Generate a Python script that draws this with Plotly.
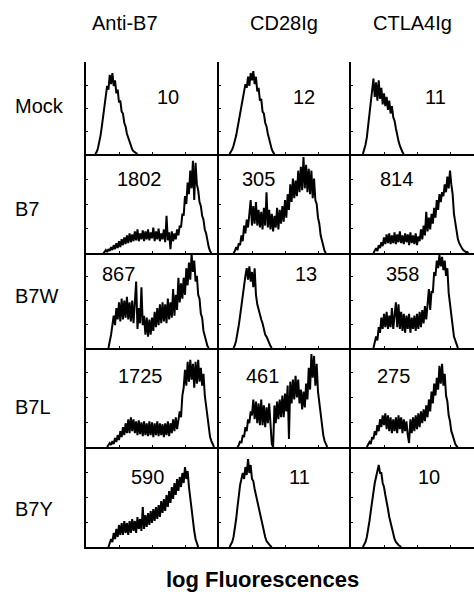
import plotly.graph_objects as go

# ---------------- data ----------------
columns = ["Anti-B7", "CD28Ig", "CTLA4Ig"]
rows = ["Mock", "B7", "B7W", "B7L", "B7Y"]
mfi = [["10", "12", "11"],
       ["1802", "305", "814"],
       ["867", "13", "358"],
       ["1725", "461", "275"],
       ["590", "11", "10"]]

# histogram counts (relative, 0-100) starting at a given log-fluorescence channel (0-100)
mock_antib7_start = 7
mock_antib7 = [0, 2, 6, 12, 20, 30, 42, 54, 62, 74, 70, 86, 76, 88, 74, 80, 66, 70, 56, 58, 46, 44, 34, 30, 22, 18,
               12, 8, 5, 3, 2, 1, 0]
mock_cd28_start = 8
mock_cd28 = [0, 2, 5, 9, 14, 20, 28, 36, 46, 54, 62, 70, 76, 72, 84, 74, 88, 80, 90, 76, 84, 68, 72, 58, 60, 46, 44,
             34, 30, 22, 16, 10, 5, 2, 0]
mock_ctla4_start = 9
mock_ctla4 = [0, 4, 10, 18, 30, 44, 58, 70, 82, 62, 78, 58, 80, 60, 72, 54, 66, 52, 62, 48, 58, 44, 52, 40, 36, 28,
              20, 14, 9, 5, 2, 0]

b7_antib7_start = 13
b7_antib7 = [0, 1, 3, 1, 4, 2, 6, 3, 8, 4, 10, 5, 12, 6, 14, 8, 16, 9, 18, 10, 20, 11, 19, 12, 22, 13, 24, 12, 20,
             14, 23, 12, 22, 14, 24, 13, 21, 15, 26, 12, 22, 14, 25, 12, 20, 14, 24, 11, 38, 13, 21, 4, 22, 12, 20,
             14, 24, 18, 28, 26, 40, 38, 58, 50, 72, 60, 84, 66, 94, 54, 92, 70, 64, 52, 48, 38, 34, 24, 20, 12, 6,
             2, 0]
b7_cd28_start = 11
b7_cd28 = [0, 2, 6, 3, 10, 8, 18, 12, 28, 20, 34, 26, 40, 54, 28, 48, 30, 52, 28, 44, 26, 42, 24, 46, 28, 62, 26,
           44, 24, 40, 22, 38, 26, 46, 24, 44, 30, 48, 32, 54, 36, 60, 44, 70, 52, 76, 56, 74, 58, 84, 62, 88, 64,
           98, 66, 90, 62, 86, 60, 84, 56, 76, 54, 50, 36, 30, 18, 12, 6, 2, 0]
b7_ctla4_start = 17
b7_ctla4 = [0, 2, 5, 2, 8, 5, 11, 7, 16, 9, 19, 10, 20, 9, 18, 10, 21, 9, 19, 11, 22, 10, 18, 9, 20, 11, 19, 8, 21,
            10, 18, 9, 20, 8, 17, 12, 24, 14, 28, 18, 42, 22, 36, 24, 40, 30, 46, 36, 54, 44, 60, 52, 62, 58, 70,
            62, 78, 66, 84, 70, 60, 40, 30, 20, 14, 10, 7, 5, 3, 2, 1, 1, 0]

b7w_antib7_start = 17
b7w_antib7 = [0, 6, 14, 24, 34, 24, 42, 30, 48, 28, 52, 30, 50, 32, 54, 30, 48, 28, 50, 26, 44, 70, 20, 42, 26, 64,
              24, 34, 14, 32, 12, 30, 14, 32, 18, 38, 22, 42, 24, 46, 26, 48, 28, 46, 26, 52, 30, 48, 32, 62, 34,
              56, 40, 74, 48, 68, 52, 74, 56, 84, 66, 90, 72, 99, 80, 92, 70, 76, 56, 52, 36, 32, 18, 12, 6, 2, 0]
b7w_cd28_start = 11
b7w_cd28 = [0, 3, 8, 15, 24, 34, 46, 56, 68, 76, 84, 72, 86, 70, 80, 64, 84, 56, 46, 40, 36, 30, 26, 20, 14, 12, 8,
            5, 2, 0]
b7w_ctla4_start = 17
b7w_ctla4 = [0, 5, 12, 8, 22, 16, 32, 20, 36, 22, 38, 20, 34, 22, 42, 20, 38, 48, 22, 46, 20, 38, 18, 36, 16, 34,
             20, 36, 16, 32, 20, 34, 18, 36, 20, 38, 22, 40, 26, 44, 30, 48, 62, 40, 60, 58, 80, 76, 92, 84, 98, 86,
             96, 82, 92, 76, 84, 58, 46, 30, 22, 12, 8, 3, 0]

b7l_antib7_start = 16
b7l_antib7 = [0, 2, 4, 2, 6, 3, 9, 5, 12, 7, 16, 10, 20, 12, 24, 14, 28, 14, 30, 16, 28, 14, 26, 12, 27, 13, 25, 11,
              26, 12, 24, 11, 26, 12, 25, 10, 24, 12, 26, 11, 24, 12, 23, 10, 24, 12, 26, 11, 24, 14, 28, 16, 30,
              18, 28, 36, 30, 52, 60, 78, 62, 86, 66, 88, 68, 84, 60, 86, 64, 88, 66, 80, 62, 74, 52, 42, 28, 20,
              10, 6, 2, 0]
b7l_cd28_start = 14
b7l_cd28 = [0, 2, 6, 4, 12, 10, 20, 16, 28, 24, 36, 32, 48, 28, 46, 24, 44, 22, 48, 22, 42, 20, 40, 24, 44, 22, 3,
            0, 42, 24, 46, 28, 48, 30, 52, 30, 54, 36, 62, 8, 66, 44, 68, 48, 72, 50, 68, 44, 58, 38, 56, 40, 64,
            48, 80, 58, 94, 70, 92, 62, 84, 56, 44, 30, 20, 12, 6, 2, 0]
b7l_ctla4_start = 12
b7l_ctla4 = [0, 2, 5, 3, 10, 8, 16, 12, 22, 16, 28, 20, 32, 22, 34, 18, 32, 16, 30, 14, 28, 16, 30, 14, 32, 18, 30,
             14, 28, 16, 26, 12, 4, 28, 14, 30, 16, 32, 18, 34, 20, 36, 24, 38, 26, 42, 30, 48, 36, 56, 44, 64, 52,
             70, 58, 82, 64, 84, 62, 74, 52, 46, 32, 26, 16, 12, 6, 3, 1, 0]

b7y_antib7_start = 17
b7y_antib7 = [0, 4, 8, 5, 14, 8, 18, 10, 22, 12, 24, 12, 26, 14, 24, 12, 26, 14, 28, 16, 26, 14, 30, 18, 28, 16, 40,
              18, 32, 20, 34, 22, 36, 24, 38, 26, 40, 28, 42, 30, 46, 34, 48, 36, 52, 40, 56, 44, 60, 48, 64, 52,
              68, 56, 70, 60, 74, 64, 80, 68, 76, 60, 48, 36, 26, 16, 8, 3, 0]
b7y_cd28_start = 8
b7y_cd28 = [0, 2, 5, 10, 18, 28, 40, 52, 62, 68, 74, 68, 80, 72, 88, 74, 82, 68, 66, 58, 52, 46, 38, 32, 26, 20, 14,
            10, 6, 4, 2, 1, 0]
b7y_ctla4_start = 9
b7y_ctla4 = [0, 2, 5, 10, 17, 26, 36, 46, 56, 64, 70, 76, 82, 74, 74, 64, 60, 52, 46, 38, 30, 24, 18, 12, 8, 5, 3,
             2, 1, 0]

histograms = [
    [(mock_antib7_start, mock_antib7), (mock_cd28_start, mock_cd28), (mock_ctla4_start, mock_ctla4)],
    [(b7_antib7_start, b7_antib7), (b7_cd28_start, b7_cd28), (b7_ctla4_start, b7_ctla4)],
    [(b7w_antib7_start, b7w_antib7), (b7w_cd28_start, b7w_cd28), (b7w_ctla4_start, b7w_ctla4)],
    [(b7l_antib7_start, b7l_antib7), (b7l_cd28_start, b7l_cd28), (b7l_ctla4_start, b7l_ctla4)],
    [(b7y_antib7_start, b7y_antib7), (b7y_cd28_start, b7y_cd28), (b7y_ctla4_start, b7y_ctla4)],
]

# ---------------- layout (pixels) ----------------
W, H = 474, 592
col_px = [(86, 219), (219, 351), (351, 474)]
col_w = 132
row_px = [(62, 154), (155, 253), (253, 348), (348, 447), (447, 547)]
header_x = [125, 284, 412]
header_y = 23
row_label_y = [106, 209, 296, 407, 509]
num_pos = [[(168, 97), (304, 97), (435, 97)],
           [(139, 179), (258, 179), (396, 179)],
           [(118, 274), (306, 274), (402, 274)],
           [(140, 376), (262, 376), (393, 376)],
           [(147, 477), (299, 477), (429, 477)]]

FONT = "Liberation Sans, Arial, sans-serif"

def px(x):
    return x / W

def py(y):
    return 1 - y / H

fig = go.Figure()
layout = dict(width=W, height=H, margin=dict(l=0, r=0, t=0, b=0),
              paper_bgcolor="white", plot_bgcolor="white", showlegend=False)
annotations = []

n = 0
for r in range(5):
    for c in range(3):
        n += 1
        start, vals = histograms[r][c]
        xs = [start + i for i in range(len(vals))]
        xa = "x" if n == 1 else f"x{n}"
        ya = "y" if n == 1 else f"y{n}"
        fig.add_trace(go.Scatter(x=xs, y=vals, mode="lines", xaxis=xa, yaxis=ya,
                                 line=dict(color="black", width=2), hoverinfo="skip"))
        x0, x1 = col_px[c]
        y0, y1 = row_px[r]
        xr = 100 * (x1 - x0) / col_w
        layout["xaxis" if n == 1 else f"xaxis{n}"] = dict(
            domain=[px(x0), px(x1)], range=[0, xr], anchor=ya,
            showline=True, linecolor="black", linewidth=2, showgrid=False, zeroline=False,
            ticks="inside", ticklen=2, tickcolor="black", tickvals=[25, 50, 75], showticklabels=False)
        layout["yaxis" if n == 1 else f"yaxis{n}"] = dict(
            domain=[py(y1), py(y0)], range=[0, 100], anchor=xa,
            showline=True, linecolor="black", linewidth=2, showgrid=False, zeroline=False,
            ticks="inside", ticklen=2, tickcolor="black", tickvals=[25, 50, 75, 100], showticklabels=False)
        tx, ty = num_pos[r][c]
        annotations.append(dict(text=mfi[r][c], x=px(tx), y=py(ty), xref="paper", yref="paper",
                                showarrow=False, xanchor="center", yanchor="middle",
                                font=dict(family=FONT, size=20, color="black")))

for c in range(3):
    annotations.append(dict(text=columns[c], x=px(header_x[c]), y=py(header_y), xref="paper", yref="paper",
                            showarrow=False, xanchor="center", yanchor="middle",
                            font=dict(family=FONT, size=20, color="black")))
for r in range(5):
    annotations.append(dict(text=rows[r], x=px(13), y=py(row_label_y[r]), xref="paper", yref="paper",
                            showarrow=False, xanchor="left", yanchor="middle",
                            font=dict(family=FONT, size=20, color="black")))
annotations.append(dict(text="<b>log Fluorescences</b>", x=px(262), y=py(579), xref="paper", yref="paper",
                        showarrow=False, xanchor="center", yanchor="middle",
                        font=dict(family=FONT, size=22, color="black")))

layout["annotations"] = annotations
fig.update_layout(**layout)
fig.write_html("out.html")
